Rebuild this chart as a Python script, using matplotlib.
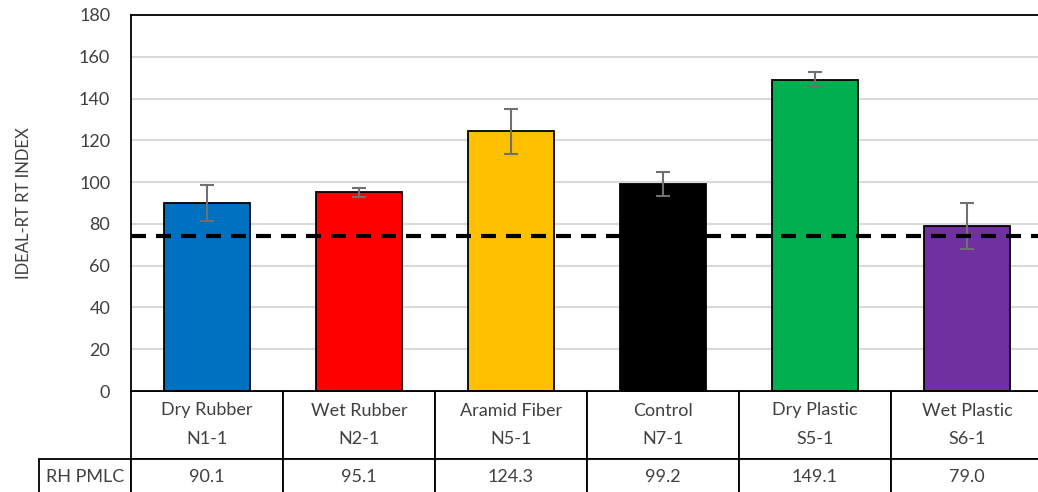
import numpy as np
import matplotlib
matplotlib.use("Agg")
import matplotlib.pyplot as plt

plt.rcParams['font.family'] = ['Lato', 'DejaVu Sans']

names = ["Dry Rubber", "Wet Rubber", "Aramid Fiber", "Control", "Dry Plastic", "Wet Plastic"]
codes = ["N1-1", "N2-1", "N5-1", "N7-1", "S5-1", "S6-1"]
pmlc = [90.1, 95.1, 124.3, 99.2, 149.1, 79.0]
err = [8.5, 2.2, 10.9, 5.8, 3.6, 11.0]
colors = ["#0070C0", "#FF0000", "#FFC000", "#000000", "#00B050", "#7030A0"]
threshold = 74
row_label = "RH PMLC"

W, H = 1038, 492
fig = plt.figure(figsize=(W / 100, H / 100), dpi=100)
ax = fig.add_axes([131 / W, (H - 391) / H, 912 / W, 376 / H])

x = np.arange(len(names))
ax.bar(x, pmlc, width=0.56, color=colors, edgecolor="black", linewidth=1.3, zorder=2)
ax.errorbar(x, pmlc, yerr=err, fmt="none", ecolor="#707070", elinewidth=1.5,
            capsize=4.7, capthick=1.5, zorder=3)
ax.axhline(threshold, color="black", lw=3, dashes=(3.6, 2.4), zorder=4)

ax.set_xlim(-0.5, len(names) - 0.5)
ax.set_ylim(0, 180)
ax.set_yticks(np.arange(0, 181, 20))
ax.set_xticks([])
ax.grid(axis="y", color="#d9d9d9", lw=1.5, zorder=0)
ax.set_axisbelow(True)
ax.tick_params(axis="y", length=0, pad=15, labelsize=13, labelcolor="#404040")
for s in ax.spines.values():
    s.set_color("black")
    s.set_linewidth(1.3)
ax.set_ylabel("IDEAL-RT RT INDEX", fontsize=12, color="#404040", labelpad=34)

# data table under the bars, first column holds the row label
cell_text = [[""] + [f"{n}\n{c}" for n, c in zip(names, codes)],
             [row_label] + [f"{v:.1f}" for v in pmlc]]
tbl = ax.table(cellText=cell_text, cellLoc="center",
               bbox=[-92 / 912, -104 / 376, 1004 / 912, 104 / 376])
tbl.auto_set_font_size(False)
for (r, c), cell in tbl.get_celld().items():
    cell.set_height(68 if r == 0 else 36)
    cell.set_width(92 if c == 0 else 152)
    cell.set_edgecolor("black")
    cell.set_linewidth(1.3)
    cell.get_text().set_fontsize(13)
    cell.get_text().set_color("#404040")
    if r == 0:
        cell.get_text().set_linespacing(2.0)
        if c == 0:
            cell.visible_edges = ""

fig.savefig("out.png", dpi=100)
